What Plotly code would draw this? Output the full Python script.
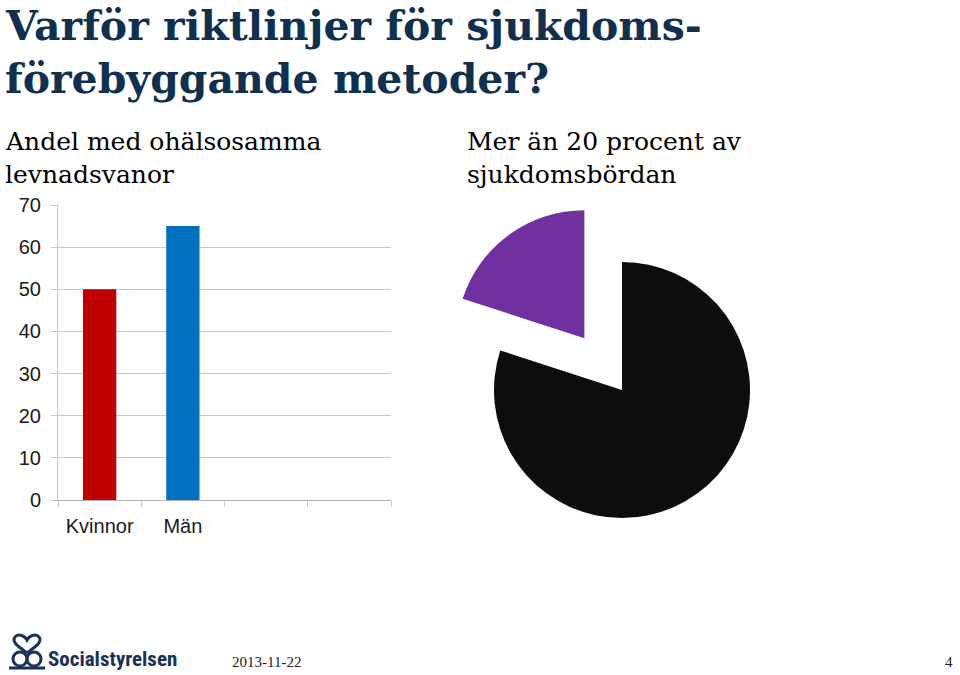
import plotly.graph_objects as go

# ---- data ----
bar_categories = ["Kvinnor", "Män"]
bar_values = [50, 65]
axis_categories = ["Kvinnor", "Män", " ", "  "]
bar_colors = ["#C00000", "#0070C0"]

pie_labels = ["Övrig sjukdomsbörda", "Ohälsosamma levnadsvanor"]
pie_values = [80, 20]
pie_colors = ["#0D0D0D", "#7030A0"]
pie_pull = [0, 0.5]

title_lines = ["Varför riktlinjer för sjukdoms-", "förebyggande metoder?"]
bar_title_lines = ["Andel med ohälsosamma", "levnadsvanor"]
pie_title_lines = ["Mer än 20 procent av", "sjukdomsbördan"]
footer_date = "2013-11-22"
footer_page = "4"
footer_org = "Socialstyrelsen"

W, H = 960, 675


def px(x):
    return x / W


def py(y):
    return 1 - y / H


fig = go.Figure()

fig.add_trace(go.Bar(
    x=bar_categories, y=bar_values, width=0.4,
    marker=dict(color=bar_colors, line=dict(width=0)),
    showlegend=False, xaxis="x", yaxis="y",
))

fig.add_trace(go.Pie(
    labels=pie_labels, values=pie_values, sort=False, direction="clockwise",
    rotation=0, pull=pie_pull, textinfo="none",
    marker=dict(colors=pie_colors, line=dict(width=0)),
    domain=dict(x=[px(622 - 192), px(622 + 192)], y=[py(390 + 192), py(390 - 192)]),
    showlegend=False,
))

grid = "#C8C8C8"
tickfont = dict(family="Liberation Sans, Arial, sans-serif", size=20, color="#1a1a1a")

fig.update_layout(
    width=W, height=H,
    margin=dict(l=0, r=0, t=0, b=0, pad=0, autoexpand=False),
    paper_bgcolor="white", plot_bgcolor="white",
    xaxis=dict(
        domain=[px(58), px(391)], type="category",
        categoryorder="array", categoryarray=axis_categories,
        range=[-0.5, 3.5], tickson="boundaries", ticks="outside", ticklen=6,
        tickcolor=grid, showline=True, linecolor="#B0B0B0", linewidth=1,
        showgrid=False, tickfont=tickfont, ticklabelstandoff=8,
        anchor="y", fixedrange=True,
    ),
    yaxis=dict(
        domain=[py(500), py(205)], range=[0, 70], dtick=10, tick0=0,
        showgrid=True, gridcolor=grid, gridwidth=1, zeroline=False,
        showline=True, linecolor=grid, ticks="outside", ticklen=6,
        tickcolor=grid, tickfont=tickfont, ticklabelstandoff=6,
        anchor="x", fixedrange=True,
    ),
)

navy = "#10304F"
serif = "DejaVu Serif, Liberation Serif, serif"
serif_small = "Liberation Serif, Times New Roman, serif"

annots = []


def add_text(text, x, y, size, color="black", bold=False, family=serif, xanchor="left"):
    t = f"<b>{text}</b>" if bold else text
    annots.append(dict(
        text=t, x=px(x), y=py(y), xref="paper", yref="paper",
        xanchor=xanchor, yanchor="middle", showarrow=False,
        font=dict(family=family, size=size, color=color),
    ))


add_text(title_lines[0], 3, 26, 41, navy, bold=True)
add_text(title_lines[1], 3, 79, 41, navy, bold=True)
add_text(bar_title_lines[0], 3, 141, 25)
add_text(bar_title_lines[1], 3, 174, 25)
add_text(pie_title_lines[0], 465, 141, 25)
add_text(pie_title_lines[1], 465, 174, 25)
add_text(footer_date, 230, 662, 15, "#222", family=serif_small)
add_text(footer_page, 955, 662, 15, "#222", family=serif_small, xanchor="right")
add_text(footer_org, 46, 659, 21, "#1B3157", bold=True,
         family="Liberation Sans Narrow, Roboto Condensed, Arial Narrow, sans-serif")

fig.update_layout(annotations=annots)

# ---- logo emblem (decorative) ----
logo_col = "#1B3157"
shapes = []
for cx in (20, 34):
    shapes.append(dict(type="circle", xref="paper", yref="paper",
                       x0=px(cx - 7), x1=px(cx + 7), y0=py(666), y1=py(652),
                       line=dict(color=logo_col, width=3)))


def P(x, y):
    return f"{px(x):.5f},{py(y):.5f}"


heart = (f"M{P(27, 653)} C{P(19, 647)} {P(11, 642)} {P(15, 637)} "
         f"C{P(19, 633)} {P(25, 636)} {P(27, 640)} "
         f"C{P(29, 636)} {P(35, 633)} {P(39, 637)} "
         f"C{P(43, 642)} {P(35, 647)} {P(27, 653)}")
shapes.append(dict(type="path", xref="paper", yref="paper", path=heart,
                   line=dict(color=logo_col, width=3)))
shapes.append(dict(type="line", xref="paper", yref="paper",
                   x0=px(9), x1=px(45), y0=py(668), y1=py(668),
                   line=dict(color=logo_col, width=3)))
fig.update_layout(shapes=shapes)

fig.write_html("out.html", config={"displayModeBar": False},
               post_script="document.body.style.margin='0';")
